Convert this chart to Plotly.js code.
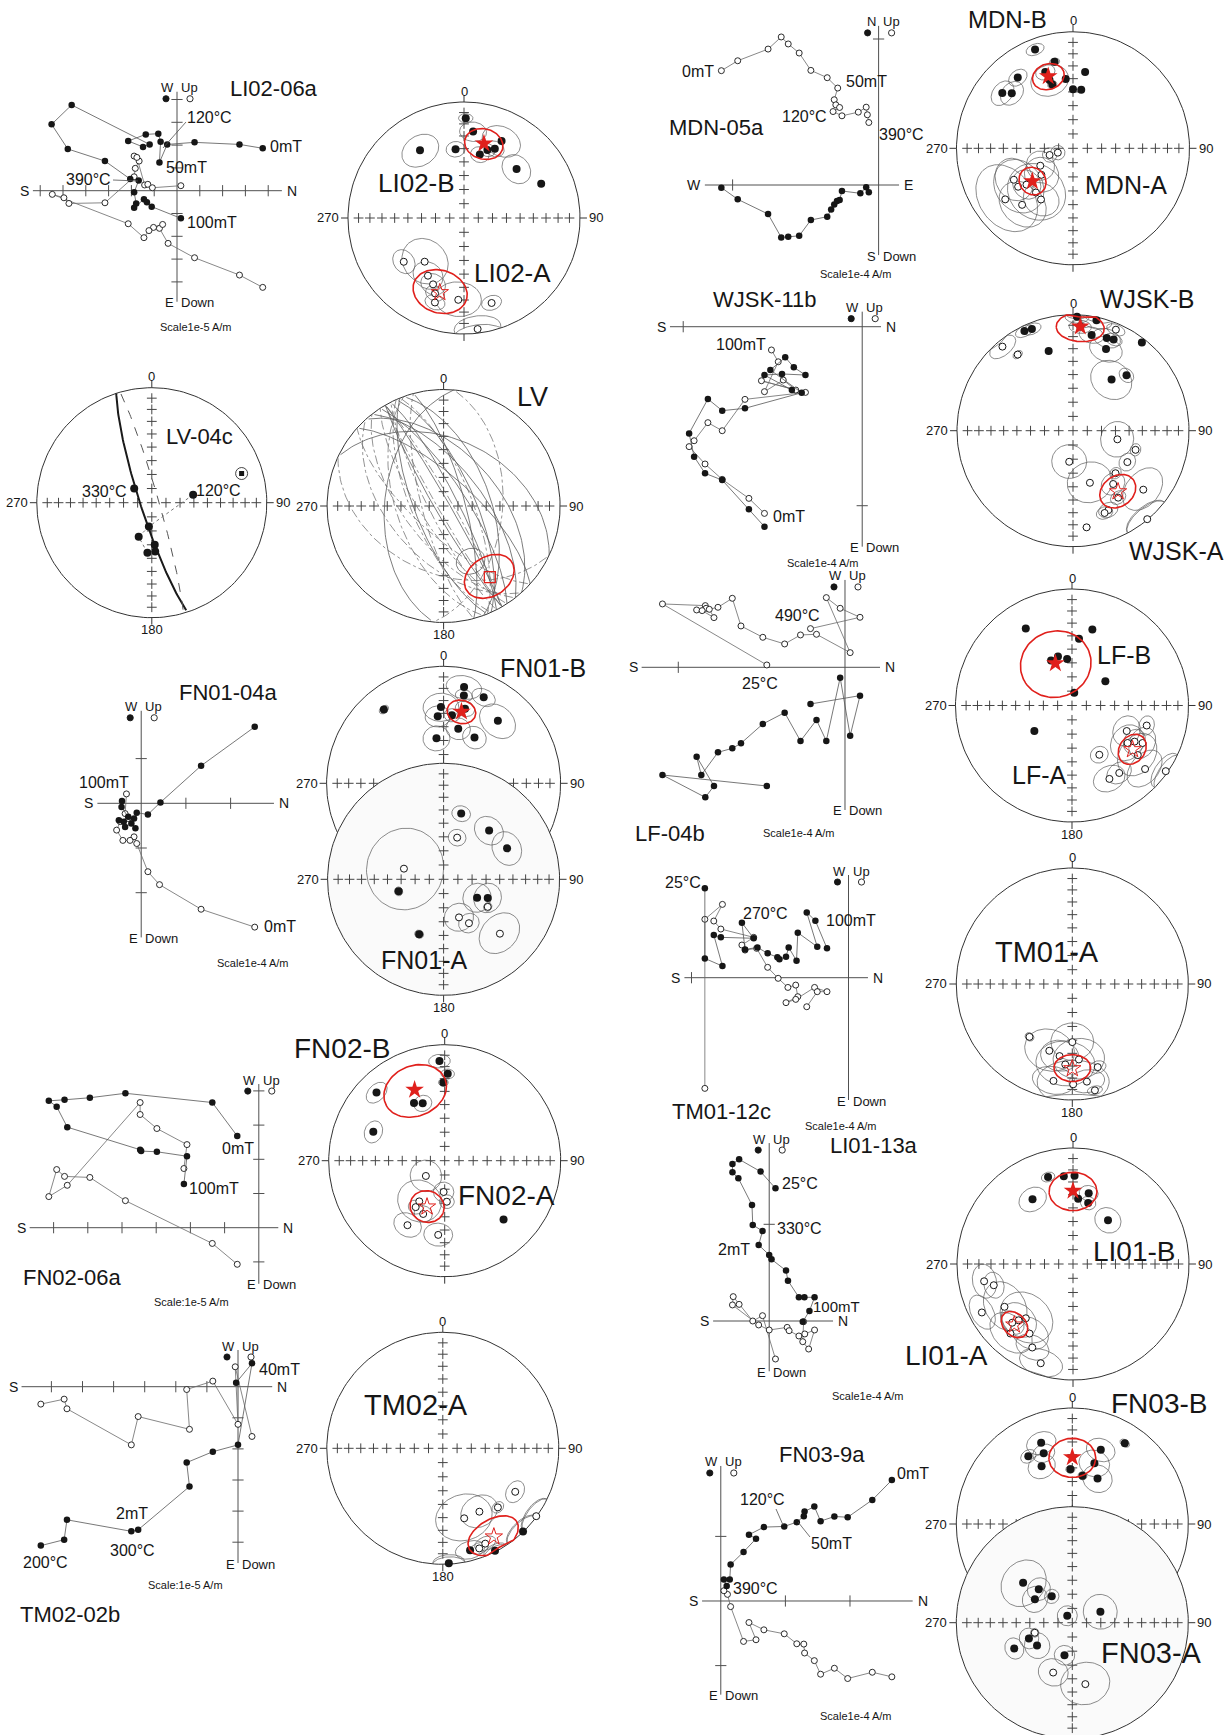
<!DOCTYPE html>
<html><head><meta charset="utf-8">
<script src="https://cdn.plot.ly/plotly-3.0.1.min.js"></script>
<style>html,body{margin:0;padding:0;background:#fff}#chart{width:1232px;height:1735px}</style>
</head><body><div id="chart"></div>
<script>
// ================= DATA =================
// Zijderveld diagrams: points in units of the scale (hor = filled, horizontal projection; ver = open, vertical projection)
const LI02_06a_hor=[[3.76,1.86],[2.74,2.03],[0.77,2.12],[-0.43,2.03],[-0.77,1.24],[-0.72,2.15],[-0.82,2.50],[-1.37,2.47],[-2.14,2.18],[-1.49,1.92],[-1.20,2.03],[-4.62,3.76],[-5.50,2.91],[-4.79,1.83],[-3.16,1.30],[-2.05,0.51],[-1.68,0.45],[-1.88,-0.07],[-1.79,-0.56],[-1.88,-0.75],[-1.45,-0.37],[-1.32,-0.51],[-1.11,-0.70],[0.17,-1.21]];
const LI02_06a_ver=[[3.76,-4.24],[2.74,-3.70],[0.77,-2.94],[-0.39,-2.31],[-0.77,-1.65],[-0.63,-1.48],[-1.03,-1.61],[-1.23,-1.75],[-1.45,-2.06],[-2.14,-1.45],[-5.47,-0.16],[-4.96,-0.31],[-4.74,-0.56],[-3.16,-0.53],[-1.88,0.61],[-1.83,0.98],[-1.66,1.30],[-1.88,1.52],[-1.76,1.46],[-1.42,0.25],[-1.28,0.28],[-1.08,0.13],[0.17,0.22]];
const FN01_04a_hor=[[2.54,1.71],[1.34,0.84],[0.43,0.02],[0.15,-0.25],[-0.10,-0.21],[-0.16,-0.34],[-0.29,-0.30],[-0.39,-0.41],[-0.50,-0.38],[-0.36,-0.53],[-0.22,-0.45],[-0.13,-0.56],[-0.44,-0.08],[-0.43,0.05]];
const FN01_04a_ver=[[2.54,-2.77],[1.34,-2.37],[0.41,-1.82],[0.15,-1.53],[-0.10,-0.90],[-0.16,-0.75],[-0.25,-0.83],[-0.41,-0.83],[-0.55,-0.60],[-0.47,-0.41],[-0.29,-0.34],[-0.36,-0.23],[-0.33,0.21]];
const FN02_06a_hor=[[-0.63,2.68],[-1.36,3.66],[-3.90,3.93],[-4.94,3.80],[-5.68,3.74],[-6.14,3.71],[-5.91,3.54],[-5.60,2.94],[-3.47,2.28],[-3.44,2.24],[-2.98,2.22],[-2.10,2.09],[-2.19,1.28]];
const FN02_06a_ver=[[-0.63,-1.07],[-1.36,-0.46],[-3.90,0.79],[-4.94,1.47],[-5.68,1.50],[-5.91,1.70],[-6.14,0.91],[-5.60,1.24],[-3.47,3.66],[-3.47,3.31],[-2.98,2.90],[-2.10,2.43],[-2.19,1.73]];
const TM02_02b_hor=[[-6.34,-5.11],[-5.59,-4.92],[-5.50,-4.28],[-3.43,-4.65],[-3.21,-4.60],[-1.56,-3.21],[-1.65,-2.44],[-0.81,-2.09],[0,-1.87],[0.45,0.75],[-0.06,0.13]];
const TM02_02b_ver=[[-6.34,-0.56],[-5.59,-0.40],[-5.50,-0.71],[-3.43,-1.87],[-3.21,-0.96],[-1.56,-1.37],[-1.65,-0.09],[-0.81,0.18],[0,-1.21],[-0.09,0.64],[0.45,-1.60]];
const MDN_05a_hor=[[-1.077,-0.018],[-0.965,-0.098],[-0.757,-0.199],[-0.667,-0.359],[-0.619,-0.355],[-0.544,-0.348],[-0.464,-0.240],[-0.352,-0.217],[-0.325,-0.167],[-0.304,-0.133],[-0.285,-0.110],[-0.267,-0.103],[-0.251,-0.041],[-0.125,-0.057],[-0.085,-0.016],[-0.067,-0.050]];
const MDN_05a_ver=[[-1.077,0.783],[-0.965,0.851],[-0.757,0.931],[-0.667,1.014],[-0.619,0.966],[-0.544,0.904],[-0.464,0.785],[-0.352,0.735],[-0.280,0.664],[-0.304,0.584],[-0.293,0.549],[-0.267,0.531],[-0.312,0.503],[-0.251,0.474],[-0.139,0.499],[-0.085,0.533],[-0.077,0.481],[-0.067,0.428]];
const WJSK_11b_hor=[[-0.546,-1.117],[-0.633,-1.020],[-0.782,-0.857],[-0.878,-0.819],[-0.939,-0.726],[-0.967,-0.596],[-0.862,-0.404],[-0.782,-0.469],[-0.655,-0.456],[-0.338,-0.369],[-0.513,-0.242],[-0.430,-0.171],[-0.382,-0.227],[-0.317,-0.270],[-0.448,-0.264],[-0.546,-0.270],[-0.393,-0.354]];
const WJSK_11b_ver=[[-0.546,-1.043],[-0.633,-0.959],[-0.782,-0.853],[-0.878,-0.767],[-0.967,-0.670],[-0.939,-0.637],[-0.862,-0.536],[-0.782,-0.581],[-0.655,-0.406],[-0.317,-0.367],[-0.563,-0.302],[-0.371,-0.354],[-0.441,-0.298],[-0.546,-0.363],[-0.469,-0.196],[-0.507,-0.130]];
const LF_04b_hor=[[-0.469,-0.712],[-1.095,-0.646],[-0.838,-0.780],[-0.786,-0.712],[-0.890,-0.536],[-0.862,-0.646],[-0.762,-0.510],[-0.676,-0.486],[-0.624,-0.456],[-0.493,-0.340],[-0.362,-0.272],[-0.267,-0.442],[-0.171,-0.316],[-0.112,-0.442],[-0.029,-0.062],[0.031,-0.410],[0.090,-0.170],[-0.207,-0.220]];
const LF_04b_ver=[[-0.469,0.014],[-1.095,0.380],[-0.838,0.370],[-0.833,0.354],[-0.890,0.344],[-0.857,0.340],[-0.786,0.298],[-0.814,0.348],[-0.762,0.360],[-0.676,0.414],[-0.624,0.248],[-0.493,0.180],[-0.362,0.140],[-0.267,0.194],[-0.171,0.198],[0.031,0.088],[-0.112,0.418],[-0.029,0.354],[0.090,0.300],[-0.207,0.232]];
const TM01_12c_hor=[[-0.915,0.569],[-0.915,0.123],[-0.803,0.074],[-0.858,0.272],[-0.813,0.257],[-0.604,0.251],[-0.679,0.350],[-0.659,0.180],[-0.580,0.193],[-0.515,0.155],[-0.453,0.130],[-0.440,0.117],[-0.398,0.134],[-0.381,0.193],[-0.331,0.108],[-0.323,0.287],[-0.199,0.197],[-0.266,0.416],[-0.211,0.363],[-0.137,0.187]];
const TM01_12c_ver=[[-0.915,-0.705],[-0.915,0.372],[-0.803,0.467],[-0.858,0.361],[-0.813,0.310],[-0.604,0.257],[-0.679,0.208],[-0.659,0.176],[-0.585,0.187],[-0.515,0.066],[-0.448,-0.004],[-0.386,-0.062],[-0.336,-0.047],[-0.323,-0.121],[-0.398,-0.159],[-0.336,-0.138],[-0.216,-0.062],[-0.137,-0.089],[-0.199,-0.089],[-0.266,-0.185]];
const LI01_13a_hor=[[0.065,1.372],[-0.089,1.545],[-0.311,1.672],[-0.380,1.624],[-0.380,1.538],[-0.319,1.476],[-0.178,1.200],[-0.170,0.993],[-0.069,0.931],[-0.109,0.786],[0.0,0.683],[0.024,0.638],[0.174,0.521],[0.194,0.417],[0.307,0.245],[0.364,0.245],[0.469,0.245],[0.416,0.103],[0.347,-0.007]];
const LI01_13a_ver=[[0.065,-0.393],[-0.069,0.055],[-0.170,0.0],[-0.311,0.172],[-0.372,0.252],[-0.380,0.166],[-0.109,-0.041],[0.0,-0.093],[0.186,-0.066],[0.206,-0.100],[0.307,-0.155],[0.368,-0.134],[0.469,-0.093],[0.408,-0.290],[0.347,-0.214],[0.356,-0.007]];
const FN03_9a_hor=[[2.648,1.872],[2.345,1.564],[1.964,1.297],[1.758,1.308],[1.545,1.236],[1.448,1.462],[1.297,1.385],[1.285,1.313],[1.176,1.221],[0.982,1.154],[0.667,1.144],[0.436,1.026],[0.545,0.964],[0.352,0.759],[0.152,0.564],[0.139,0.333],[0.048,0.333],[0.091,0.231]];
const FN03_9a_ver=[[2.648,-1.174],[2.345,-1.103],[1.964,-1.200],[1.758,-1.041],[1.545,-1.133],[1.448,-0.923],[1.297,-0.805],[1.285,-0.667],[1.176,-0.662],[0.982,-0.508],[0.667,-0.446],[0.436,-0.333],[0.545,-0.600],[0.352,-0.626],[0.152,-0.087],[0.103,0.103],[0.048,0.159]];

// Stereonets: [declination, inclination, alpha95]  (inc < 0 = upper hemisphere, open)
const LI02_sites=[[1,15,4],[6,26,8],[26,27,12],[14,43,6],[19,38,5],[24,35,6],[353,40,6],[327,31,12],[47,38,10],[66,28,0],[234,-36,8],[222,-48,16],[212,-41,10],[205,-37,8],[201,-31,6],[199,-24,6],[184,-30,14],[162,-24,6],[173,-4,12]];
const LI02_means=[[15,34,12],[198,-33,17]];
const LV04c_steps=[[309,74],[79,60],[187,73],[201,64],[176,60],[185,54],[176,55]];
const LV04c_special=[[72,19]];
const LV04c_planes=[[162,82],[344,85]];
const LV_planes=[[330,86],[333,80],[327,74],[336,68],[322,63],[340,57],[318,52],[345,75],[312,70],[295,42],[150,84],[158,70],[185,48]];
const LV_mean=[[147,28,16]];
const LV_circles=[[154,46,9.5]];
const FN01B_sites=[[12,17,10],[25,20,7],[13,24,5],[358,35,11],[16,34,6],[7,41,5],[355,42,8],[41,30,12],[15,50,8],[34,51,8],[351,58,9],[321,20,3]];
const FN01B_means=[[14,37,9]];
const FN01A_sites=[[15,41,6],[43,42,10],[64,39,11],[119,63,10],[113,56,10],[255,57,3],[204,47,3],[18,-59,6],[285,-61,28],[122,-53,3],[158,-61,10],[150,-54,7],[134,-33,14]];
const FN02_sites=[[357,15,6],[2,26,4],[359,33,3],[315,18,7],[332,43,0],[339,46,6],[292,34,7],[135,29,0],[231,-73,11],[182,-68,7],[177,-61,5],[212,-56,15],[212,-51,5],[202,-49,6],[210,-36,9],[185,-36,9]];
const FN02_means=[[337,34,20],[201,-55,11.5]];
const TM02_sites=[[177,1,8],[165,10,8],[153,1,6],[136,0.5,10],[121,-28,7],[137,-31,4],[150,-37,12],[163,-37,18],[126,-0.5,10],[156,-11,6],[160,-9,5]];
const TM02_means=[[150,-13,15]];
const MDN_sites=[[339,10,5],[348,25,3],[340,31,6],[341,38,12],[342,42,3],[354,40,0],[9,34,0],[0,48,0],[8,48,0],[322,24,6],[308,24,8],[312,30,8],[254,-73,5],[254,-79,5],[242,-64,10],[230,-61,12],[235,-42,18],[232,-48,10],[233,-28,22],[222,-35,16],[212,-47,12],[220,-49,20],[242,-42,14]];
const MDN_means=[[341,35,10],[231,-53,9.5]];
const WJSK_sites=[[2,2,6],[12,3,8],[4,11,6],[334,5,5],[338,6,5],[11,17,7],[20,16,8],[24,15,5],[38,4,0],[22,25,10],[343,29,0],[37,44,14],[44,34,5],[320,-6,8],[324,-20,3],[23,-6,5],[187,-68,12],[101,-58,12],[120,-45,6],[107,-43,4],[162,-51,15],[135,-47,4],[143,-42,8],[146,-31,5],[130,-22,14],[156,-26,6],[159,-25,5],[140,-0.5,12],[172,-17,2]];
const WJSK_means=[[4,11,13],[143.5,-35,12]];
const LF_sites=[[329,24,0],[15,33,0],[6,42,0],[344,54,0],[354,57,0],[335,55,0],[54,61,0],[10,81,0],[236,58,0],[105,-34,6],[115,-47,10],[120,-38,8],[124,-42,12],[118,-32,10],[127,-30,14],[151,-50,6],[131,-18,12],[145,-30,8],[153,-30,10],[125,-2,10]];
const LF_means=[[338.5,58,24],[126,-36,10]];
const TM01_sites=[[219,-41,3],[180,-48.5,14],[171.5,-16,10],[163,-26,5],[191,-16,12],[168,-7,4],[190,-37,12],[185,-31,18],[175,-35,16],[199,-39,16],[179.5,-14.6,20]];
const TM01_means=[[180,-28,11]];
const LI01_sites=[[344,23,4],[354,25,0],[1,25,0],[4.5,43,0],[12.5,37.5,6],[14,45,5],[328,34.5,9],[38.6,50,9],[259,-23,10],[255,-30,8],[242,-12,10],[226,-28,8],[224,-33,12],[221,-38,18],[212,-30,12],[206,-21,10],[198,-11,12],[222,-20.5,14],[238,-31,16]];
const LI01_means=[[0,37,15],[224,-28,9]];
const FN03B_sites=[[339,26,9],[338,34.5,7],[327,31,5],[332,43,9],[358,51,3],[21,32,9],[20,43.6,10],[12,55,3],[29,53,10],[33,18,3]];
const FN03B_means=[[0,42,15]];
const FN03A_sites=[[309,44.6,16],[315,56.4,8],[302,58.8,9],[322,66.5,5],[324,84,7],[68.6,68.8,12],[250,57.3,7],[237,60.3,9],[246,44.4,7],[193.5,66.4,7],[255,-62.6,3],[201,-52,10],[168,-45,16]];
const NET_TICKS=[80,70,60,50,40,30,20,10];

// ================= DRAWING =================
const W=1232,H=1735,DEG=Math.PI/180;
const FONT='"Liberation Sans", Arial, sans-serif';
const NARROW='"Liberation Sans Narrow", "Arial Narrow", "Liberation Sans", Arial, sans-serif';
const INK='#161616', LINE='#505050', RED='#e0201c';
const traces=[];
const layout={width:W,height:H,margin:{l:0,r:0,t:0,b:0,pad:0},paper_bgcolor:'#fff',plot_bgcolor:'rgba(0,0,0,0)',showlegend:false,shapes:[],annotations:[],font:{family:FONT,color:INK}};
let nAx=0;
function newAxes(ox,oy,s,bx0,bx1,by0,by1){
  bx0=Math.max(0,bx0);bx1=Math.min(W,bx1);by0=Math.max(0,by0);by1=Math.min(H,by1);
  nAx++;const k=nAx===1?'':String(nAx);
  const base={visible:false,showgrid:false,zeroline:false,fixedrange:true};
  layout['xaxis'+k]=Object.assign({},base,{domain:[bx0/W,bx1/W],range:[(bx0-ox)/s,(bx1-ox)/s],anchor:'y'+k});
  layout['yaxis'+k]=Object.assign({},base,{domain:[1-by1/H,1-by0/H],range:[(oy-by1)/s,(oy-by0)/s],anchor:'x'+k});
  return {x:'x'+k,y:'y'+k};
}
function txt(t,px,py,size,xa,fam){layout.annotations.push({xref:'paper',yref:'paper',x:px/W,y:1-py/H,text:t,showarrow:false,xanchor:xa||'center',yanchor:'middle',borderpad:0,font:{size:size,color:INK,family:fam||FONT}});}
function leader(x0,y0,x1,y1){layout.shapes.push({type:'line',xref:'paper',yref:'paper',x0:x0/W,y0:1-y0/H,x1:x1/W,y1:1-y1/H,line:{color:LINE,width:0.8}});}
function dot(px,py,filled){const r=3.1;layout.shapes.push({type:'circle',xref:'paper',yref:'paper',x0:(px-r)/W,x1:(px+r)/W,y0:1-(py+r)/H,y1:1-(py-r)/H,fillcolor:filled?INK:'#fff',line:{color:INK,width:0.9}});}
function seq(a,b){const o=[];for(let k=a;k<=b;k++)if(k!==0)o.push(k);return o;}

function zijder(c,hor,ver){
  const T=c.T,L=c.ox+c.xr[0]*T,R=c.ox+c.xr[1]*T,Tp=c.oy-c.yr[1]*T,Bt=c.oy-c.yr[0]*T;
  const ax=newAxes(c.ox,c.oy,T,L-14,R+14,Tp-14,Bt+14);
  const add=o=>{o.type='scatter';o.xaxis=ax.x;o.yaxis=ax.y;o.hoverinfo='skip';o.cliponaxis=false;traces.push(o);};
  add({mode:'lines',x:[c.xr[0],c.xr[1],null,0,0],y:[0,0,null,c.yr[0],c.yr[1]],line:{color:LINE,width:1}});
  add({mode:'markers',x:c.tx,y:c.tx.map(()=>0),marker:{symbol:'line-ns',size:8,color:LINE,line:{width:1,color:LINE}}});
  add({mode:'markers',x:c.ty.map(()=>0),y:c.ty,marker:{symbol:'line-ew',size:8,color:LINE,line:{width:1,color:LINE}}});
  add({mode:'lines+markers',x:ver.map(p=>p[0]),y:ver.map(p=>p[1]),line:{color:'#6a6a6a',width:0.8},marker:{symbol:'circle',size:6,color:'#fff',line:{color:INK,width:0.9}}});
  add({mode:'lines+markers',x:hor.map(p=>p[0]),y:hor.map(p=>p[1]),line:{color:'#555',width:0.8},marker:{symbol:'circle',size:6.5,color:INK}});
  const e=c.ends||['S','N','W','Up','E','Down'];
  txt(e[0],L-3,c.oy,14,'right');txt(e[1],R+4,c.oy,14,'left');
  txt(e[2],c.ox-2,Tp-4,13,'right');txt(e[3],c.ox+3,Tp-4,13,'left');
  txt(e[4],c.ox-2,Bt+1,13,'right');txt(e[5],c.ox+3,Bt+1,13,'left');
  dot(c.ox-11,Tp+7,true);dot(c.ox+13,Tp+7,false);
}

function eqR(inc){return Math.SQRT2*Math.sin((90-Math.abs(inc))*DEG/2);}
function proj(dec,inc){const r=eqR(inc);return [r*Math.sin(dec*DEG),r*Math.cos(dec*DEG)];}
function vec(dec,inc){return [Math.cos(inc*DEG)*Math.cos(dec*DEG),Math.cos(inc*DEG)*Math.sin(dec*DEG),Math.sin(inc*DEG)];}
function cross(a,b){return [a[1]*b[2]-a[2]*b[1],a[2]*b[0]-a[0]*b[2],a[0]*b[1]-a[1]*b[0]];}
function unit(a){const n=Math.hypot(a[0],a[1],a[2]);return a.map(v=>v/n);}
function smallCircle(dec,inc,a,step){
  const c=vec(dec,inc);const u=unit(Math.abs(c[2])<0.9?cross(c,[0,0,1]):cross(c,[1,0,0]));const v=cross(c,u);
  const out=[];for(let t=0;t<=360;t+=(step||4)){const q=[0,1,2].map(j=>Math.cos(a*DEG)*c[j]+Math.sin(a*DEG)*(Math.cos(t*DEG)*u[j]+Math.sin(t*DEG)*v[j]));
    out.push([Math.atan2(q[1],q[0])/DEG,Math.asin(Math.max(-1,Math.min(1,q[2])))/DEG]);}
  return out;
}
function circlesXY(list){const x=[],y=[];list.forEach(s=>{if(!(s[2]>0))return;smallCircle(s[0],s[1],s[2]).forEach(p=>{const q=proj(p[0],p[1]);x.push(q[0]);y.push(q[1]);});x.push(null);y.push(null);});return {x,y};}
function planeXY(strike,dip){
  const pts=smallCircle(strike-90,90-dip,90,2);const lo={x:[],y:[]},up={x:[],y:[]};
  pts.forEach(p=>{const q=proj(p[0],p[1]);if(p[1]>=0){lo.x.push(q[0]);lo.y.push(q[1]);up.x.push(null);up.y.push(null);}else{up.x.push(q[0]);up.y.push(q[1]);lo.x.push(null);lo.y.push(null);}});
  return {lo,up};
}

function stereo(c,sites,means,meanSym){
  const ax=newAxes(c.cx,c.cy,c.R,c.cx-1.1*c.R,c.cx+1.1*c.R,c.cy-1.1*c.R,c.cy+1.1*c.R);
  const add=o=>{o.type='scatter';o.xaxis=ax.x;o.yaxis=ax.y;o.hoverinfo='skip';traces.push(o);};
  const px=[],py=[];for(let t=0;t<=360;t+=2){px.push(Math.sin(t*DEG));py.push(Math.cos(t*DEG));}
  add({mode:'lines',x:px,y:py,line:{color:'#333',width:1},fill:c.fill?'toself':'none',fillcolor:c.fill||'rgba(0,0,0,0)'});
  add({mode:'lines',x:[0,0,null,1,1.06,null,0,0,null,-1,-1.06],y:[1,1.06,null,0,0,null,-1,-1.06,null,0,0],line:{color:'#333',width:1}});
  const cx=[0],cy=[0];NET_TICKS.forEach(i=>{const r=eqR(i);cx.push(0,r,0,-r);cy.push(r,0,-r,0);});
  add({mode:'markers',x:cx,y:cy,marker:{symbol:'cross-thin-open',size:7,color:'#444',line:{width:1,color:'#444'}}});
  if(sites&&sites.length){
    const cc=circlesXY(sites);add({mode:'lines',x:cc.x,y:cc.y,line:{color:'#5a5a5a',width:0.7}});
    const dn=sites.filter(s=>s[1]>=0).map(s=>proj(s[0],s[1])),upp=sites.filter(s=>s[1]<0).map(s=>proj(s[0],s[1]));
    add({mode:'markers',x:upp.map(p=>p[0]),y:upp.map(p=>p[1]),cliponaxis:false,marker:{symbol:'circle',size:7,color:'#fff',line:{color:INK,width:1}}});
    add({mode:'markers',x:dn.map(p=>p[0]),y:dn.map(p=>p[1]),cliponaxis:false,marker:{symbol:'circle',size:8,color:INK}});
  }
  if(means&&means.length){
    const mc=circlesXY(means);add({mode:'lines',x:mc.x,y:mc.y,line:{color:RED,width:1.6}});
    means.forEach((m,i)=>{const q=proj(m[0],m[1]);const sym=meanSym[i];
      add({mode:'markers',x:[q[0]],y:[q[1]],cliponaxis:false,marker:{symbol:sym,size:sym==='star'?14:13,color:RED,line:{color:RED,width:sym==='star'?0:1}}});});
  }
  const l=c.lab;
  if(l[0])txt('0',c.cx,c.cy-c.R-11,13);
  if(l[1])txt('90',c.cx+c.R+8,c.cy,13,'left');
  if(l[2])txt('180',c.cx,c.cy+c.R+12,13);
  if(l[3])txt('270',c.cx-c.R-8,c.cy,13,'right');
  return add;
}

// ---- Left column ----
zijder({ox:177,oy:190.7,T:22.8,xr:[-6.32,4.6],yr:[-4.87,4.34],tx:seq(-6,4),ty:seq(-4,4)},LI02_06a_hor,LI02_06a_ver);
stereo({cx:464,cy:218,R:116,lab:[1,1,0,1]},LI02_sites,LI02_means,['star','star-open']);

// LV-04c
(function(){
  const add=stereo({cx:151.8,cy:502.7,R:115,lab:[1,1,1,1]},null,null,[]);
  const p1=planeXY(LV04c_planes[0][0],LV04c_planes[0][1]);add({mode:'lines',x:p1.lo.x,y:p1.lo.y,line:{color:'#1a1a1a',width:2}});
  const p2=planeXY(LV04c_planes[1][0],LV04c_planes[1][1]);add({mode:'lines',x:p2.lo.x,y:p2.lo.y,line:{color:'#555',width:1,dash:'dash'}});
  const path=[1,2,3,5].map(i=>proj(LV04c_steps[i][0],LV04c_steps[i][1]));
  add({mode:'lines',x:path.map(p=>p[0]),y:path.map(p=>p[1]),line:{color:'#777',width:1,dash:'dot'}});
  const st=LV04c_steps.map(s=>proj(s[0],s[1]));
  add({mode:'markers',x:st.map(p=>p[0]),y:st.map(p=>p[1]),marker:{symbol:'circle',size:8,color:INK}});
  const sp=LV04c_special.map(s=>proj(s[0],s[1]));
  add({mode:'markers',x:sp.map(p=>p[0]),y:sp.map(p=>p[1]),marker:{symbol:'circle-open',size:12,color:INK,line:{width:0.8,color:INK}}});
  add({mode:'markers',x:sp.map(p=>p[0]),y:sp.map(p=>p[1]),marker:{symbol:'square',size:5,color:INK}});
})();
// LV
(function(){
  const add=stereo({cx:443.6,cy:506,R:116.5,lab:[1,1,1,1]},null,null,[]);
  const lo={x:[],y:[]},up={x:[],y:[]};
  LV_planes.forEach(pl=>{const g=planeXY(pl[0],pl[1]);lo.x.push(...g.lo.x,null);lo.y.push(...g.lo.y,null);up.x.push(...g.up.x,null);up.y.push(...g.up.y,null);});
  add({mode:'lines',x:up.x,y:up.y,line:{color:'#777',width:0.8,dash:'dashdot'}});
  add({mode:'lines',x:lo.x,y:lo.y,line:{color:'#5a5a5a',width:0.8}});
  const gc=circlesXY(LV_circles);add({mode:'lines',x:gc.x,y:gc.y,line:{color:'#5a5a5a',width:0.8}});
  const mc=circlesXY(LV_mean);add({mode:'lines',x:mc.x,y:mc.y,line:{color:RED,width:1.6}});
  const m=proj(LV_mean[0][0],LV_mean[0][1]);add({mode:'markers',x:[m[0]],y:[m[1]],marker:{symbol:'square-open',size:11,color:RED,line:{width:1.3,color:RED}}});
})();

zijder({ox:141.2,oy:803.3,T:44.7,xr:[-0.98,2.97],yr:[-3.0,2.07],tx:[1,2],ty:[-2,-1,1]},FN01_04a_hor,FN01_04a_ver);
stereo({cx:443.6,cy:783.3,R:117,lab:[1,1,0,1]},FN01B_sites,FN01B_means,['star']);
stereo({cx:443.6,cy:879.3,R:116,lab:[0,1,1,1],fill:'#fafafa'},FN01A_sites,[],[]);

zijder({ox:258.8,oy:1227.7,T:34.2,xr:[-6.7,0.57],yr:[-1.64,4.2],tx:seq(-6,-1),ty:[-1,1,2,3,4]},FN02_06a_hor,FN02_06a_ver);
stereo({cx:444.7,cy:1160.7,R:116,lab:[1,1,0,1]},FN02_sites,FN02_means,['star','star-open']);

zijder({ox:238,oy:1386.7,T:31.1,xr:[-6.96,1.1],yr:[-5.67,1.18],tx:seq(-6,-1),ty:seq(-5,-1)},TM02_02b_hor,TM02_02b_ver);
stereo({cx:442.8,cy:1448.3,R:116,lab:[1,1,1,1]},TM02_sites,TM02_means,['star-open']);

// ---- Right column ----
zijder({ox:878.6,oy:185,T:146,xr:[-1.19,0.14],yr:[-0.48,1.09],tx:[-1],ty:[1],ends:['W','E','N','Up','S','Down']},MDN_05a_hor,MDN_05a_ver);
stereo({cx:1073,cy:148.3,R:116.5,lab:[1,1,0,1]},MDN_sites,MDN_means,['star','star']);

zijder({ox:862.2,oy:326.7,T:179,xr:[-1.074,0.105],yr:[-1.229,0.084],tx:[-1],ty:[-1]},WJSK_11b_hor,WJSK_11b_ver);
stereo({cx:1073,cy:430.7,R:116,lab:[1,1,0,1]},WJSK_sites,WJSK_means,['star','star-open']);

zijder({ox:845,oy:667.3,T:166.7,xr:[-1.22,0.21],yr:[-0.856,0.524],tx:[-1],ty:[]},LF_04b_hor,LF_04b_ver);
stereo({cx:1072,cy:705.5,R:116.5,lab:[1,1,1,1]},LF_sites,LF_means,['star','star-open']);

zijder({ox:848.5,oy:977.7,T:157,xr:[-1.045,0.124],yr:[-0.779,0.654],tx:[-1],ty:[]},TM01_12c_hor,TM01_12c_ver);
stereo({cx:1072.3,cy:984,R:116,lab:[1,1,1,1]},TM01_sites,TM01_means,['star-open']);

zijder({ox:769.2,oy:1321,T:96.7,xr:[-0.58,0.66],yr:[-0.52,1.84],tx:[],ty:[1]},LI01_13a_hor,LI01_13a_ver);
stereo({cx:1073,cy:1264,R:116,lab:[1,1,0,1]},LI01_sites,LI01_means,['star','star-open']);

zijder({ox:720.8,oy:1601,T:64.6,xr:[-0.29,2.97],yr:[-1.45,2.09],tx:[1,2],ty:[-1,1]},FN03_9a_hor,FN03_9a_ver);
stereo({cx:1072.3,cy:1524,R:116,lab:[1,1,0,1]},FN03B_sites,FN03B_means,['star']);
stereo({cx:1072.3,cy:1622.7,R:116,lab:[0,1,0,1],fill:'#fafafa'},FN03A_sites,[],[]);

// ---- Text labels ----
[['LI02-06a',274,88,22],['120°C',209,118,16],['0mT',286,146,16],['50mT',186,167,16],['390°C',88,179,16],['100mT',212,222,16],
 ['LI02-B',416,183,26],['LI02-A',512,273,26],
 ['LV-04c',199,437,22],['330°C',105,492,16],['120°C',218,490,16],['LV',532,397,27],
 ['FN01-04a',228,692,22],['100mT',104,783,16],['0mT',280,926,16],['FN01-B',543,668,25],['FN01-A',424,960,25],
 ['FN02-06a',72,1277,22],['0mT',238,1148,16],['100mT',214,1188,16],['FN02-B',342,1048,28],['FN02-A',506,1195,28],
 ['TM02-02b',70,1614,22],['40mT',279,1369,16],['2mT',132,1513,16],['300°C',132,1550,16],['200°C',45,1562,16],['TM02-A',416,1405,29],
 ['MDN-05a',716,128,22],['0mT',698,72,16],['50mT',866,81,16],['120°C',804,117,16],['390°C',902,134,16],['MDN-B',1007,20,24],['MDN-A',1126,185,25],
 ['WJSK-11b',765,299,22],['100mT',741,345,16],['0mT',789,516,16],['WJSK-B',1147,299,25],['WJSK-A',1176,551,25],
 ['LF-04b',670,833,22],['490°C',797,615,16],['25°C',760,683,16],['LF-B',1124,655,25],['LF-A',1039,775,25],
 ['TM01-12c',721,1111,22],['25°C',683,882,16],['270°C',765,913,16],['100mT',851,920,16],['TM01-A',1047,952,29],
 ['LI01-13a',874,1145,22],['25°C',800,1183,16],['330°C',799,1228,16],['2mT',734,1249,16],['100mT',836,1306,15],['LI01-B',1134,1251,28],['LI01-A',946,1355,28],
 ['FN03-9a',822,1454,22],['0mT',913,1473,16],['120°C',763,1499,16],['50mT',831,1543,16],['390°C',755,1588,16],['FN03-B',1159,1403,28],['FN03-A',1151,1653,29]
].forEach(a=>txt(a[0],a[1],a[2],a[3]));
[['Scale1e-5 A/m',196,327],['Scale1e-4 A/m',253,963],['Scale:1e-5 A/m',191,1302],['Scale:1e-5 A/m',185,1585],['Scale1e-4 A/m',856,274],
 ['Scale1e-4 A/m',823,563],['Scale1e-4 A/m',799,833],['Scale1e-4 A/m',841,1126],['Scale1e-4 A/m',868,1396],['Scale1e-4 A/m',856,1716]
].forEach(a=>txt(a[0],a[1],a[2],11,'center',NARROW));
leader(186,122,163,148);leader(113,180,138,181);
leader(776,1509,783,1525);leader(810,1537,798,1522);

Plotly.newPlot('chart',traces,layout,{staticPlot:true,displayModeBar:false});
</script></body></html>
